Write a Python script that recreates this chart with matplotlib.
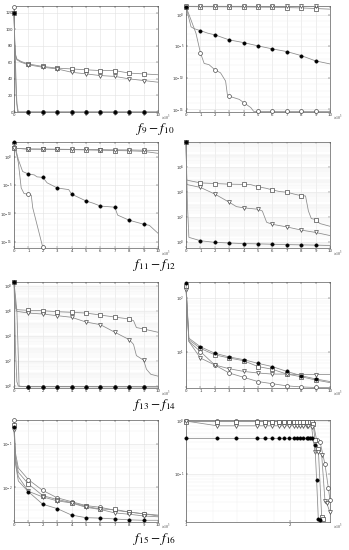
import numpy as np
import matplotlib
matplotlib.use('Agg')
import matplotlib.pyplot as plt
import matplotlib.ticker as mtick

plt.rcParams['mathtext.fontset'] = 'stix'
plt.rcParams['font.family'] = 'DejaVu Sans'

# ── Config ────────────────────────────────────────────────────────────────────
OUTPUT   = 'out.png'
DPI      = 100
W_PX, H_PX = 349, 550
LINE     = '#8a8a8a'
EDGE     = '#4a4a4a'
GRID     = '#e2e2e2'
GRID_MIN = '#f0f0f0'
TICK_FS  = 2.8

# ── Data (x in 10^3 evaluations, log panels stored as log10 values) ──────────
# f9  (linear y)
F9_X_A = [0, 0.05, 0.15, 0.25, 1, 2, 3, 4, 5, 6, 7, 8, 9, 10]
F9_Y_A = [127, 80, 20, 0, 0, 0, 0, 0, 0, 0, 0, 0, 0, 0]
F9_X_B = [0, 0.05, 0.1, 0.2, 0.5, 1, 2, 3, 4, 5, 6, 7, 8, 9, 10]
F9_Y_B = [120, 85, 70, 64, 61, 58, 55, 53, 52, 51, 50, 50, 47, 46, 45]
F9_X_C = [0, 0.05, 0.1, 0.2, 0.5, 1, 2, 3, 4, 5, 6, 7, 8, 9, 10]
F9_Y_C = [120, 80, 68, 63, 60, 57, 54, 52, 48, 46, 44, 43, 40, 38, 36]
F9_X_D = [0, 0.1, 0.2, 0.3, 1, 2, 3, 4, 5, 6, 7, 8, 9, 10]
F9_Y_D = [120, 60, 10, 0, 0, 0, 0, 0, 0, 0, 0, 0, 0, 0]

# f10
F10_X_A = [0, 0.69, 1, 1.26, 1.6, 2, 2.4, 2.75, 2.87, 3, 3.7, 4, 4.5, 4.7, 5, 6, 7, 8, 9, 10]
F10_A   = [1.3, -2.9, -6.0, -7.7, -7.9, -8.7, -9.2, -10.5, -12.6, -12.9, -13.4, -13.9, -14.7,
           -15.3, -15.3, -15.3, -15.3, -15.3, -15.3, -15.3]
F10_X_B = [0, 1, 2, 3, 4, 5, 6, 7, 8, 9, 10]
F10_B   = [1.3, 1.28, 1.27, 1.26, 1.25, 1.22, 1.2, 1.15, 1.1, 1.0, 0.9]
F10_X_C = [0, 1, 2, 3, 4, 5, 6, 7, 8, 9, 10]
F10_C   = [1.35, 1.35, 1.35, 1.35, 1.35, 1.34, 1.34, 1.34, 1.33, 1.33, 1.32]
F10_X_D = [0, 0.35, 0.57, 1, 1.5, 2, 3, 4, 5, 6, 7, 8, 9, 10]
F10_D   = [1.3, -1.9, -2.2, -2.5, -2.9, -3.17, -3.97, -4.4, -4.92, -5.4, -5.82, -6.46, -7.3, -7.78]

# f11
F11_X_A = [0, 0.3, 0.5, 0.7, 1, 1.2, 1.3, 1.6, 1.8, 2]
F11_A   = [2.5, -1.0, -5.5, -6.5, -6.6, -6.8, -9.0, -12.0, -14.0, -16.0]
F11_X_B = [0, 1, 2, 3, 4, 5, 6, 7, 8, 9, 10]
F11_B   = [1.5, 1.35, 1.33, 1.3, 1.25, 1.2, 1.15, 1.1, 1.05, 0.95, 0.6]
F11_X_C = [0, 1, 2, 3, 4, 5, 6, 7, 8, 9, 10]
F11_C   = [1.5, 1.36, 1.35, 1.33, 1.3, 1.28, 1.25, 1.22, 1.2, 1.15, 1.1]
F11_X_D = [0, 0.3, 0.6, 1, 1.4, 1.6, 2, 2.3, 3, 3.8, 4, 5, 5.5, 6, 7, 7.2, 8, 9, 9.4, 10]
F11_D   = [2.6, -0.5, -2.6, -3.05, -3.2, -3.55, -3.64, -4.6, -5.5, -5.8, -6.6, -7.8, -8.2, -8.7,
           -8.9, -10.3, -11.2, -11.9, -12.1, -13.5]

# f12
F12_X_B = [0, 0.05, 0.1, 1, 2, 3, 4, 4.5, 5, 5.6, 6, 6.5, 7, 7.5, 8, 8.3, 8.5, 8.7, 9, 9.3, 10]
F12_B   = [8.0, 5.0, 4.95, 4.74, 4.69, 4.64, 4.62, 4.6, 4.44, 4.3, 4.18, 4.05, 4.0, 3.85, 3.72,
           3.7, 2.5, 1.9, 1.82, 1.5, 1.28]
F12_X_C = [0, 0.05, 0.1, 1, 2, 3, 3.5, 4, 5, 5.3, 5.6, 6, 7, 8, 9, 10]
F12_C   = [8.0, 4.7, 4.6, 4.38, 3.85, 3.2, 2.85, 2.75, 2.64, 2.5, 1.6, 1.44, 1.23, 0.98, 0.79, 0.54]
F12_X_D = [0, 0.1, 0.2, 1, 2, 3, 4, 5, 6, 7, 8, 9, 10]
F12_D   = [8.0, 3.0, 0.4, 0.13, 0.0, -0.05, -0.1, -0.12, -0.15, -0.18, -0.2, -0.22, -0.25]

# f13
F13_X_A = [0, 0.2, 0.3, 0.35, 0.4, 1, 2, 3, 4, 5, 6, 7, 8, 9, 10]
F13_A   = [8.3, 6.0, 2.3, 0.0, -0.08, -0.08, -0.08, -0.08, -0.08, -0.08, -0.08, -0.08, -0.08,
           -0.08, -0.08]
F13_X_B = [0, 0.1, 0.2, 1, 2, 3, 4, 5, 6, 7, 8, 8.3, 8.5, 9, 10]
F13_B   = [8.3, 6.5, 6.08, 6.03, 6.0, 5.92, 5.87, 5.81, 5.65, 5.49, 5.33, 5.2, 4.65, 4.53, 4.27]
F13_X_C = [0, 0.1, 0.2, 1, 2, 3, 4, 5, 6, 7, 8, 8.3, 8.5, 9, 9.2, 9.5, 10]
F13_C   = [8.3, 6.2, 5.95, 5.81, 5.73, 5.6, 5.47, 5.09, 4.88, 4.27, 3.68, 3.3, 2.4, 2.03, 1.3,
           0.9, 0.75]
F13_X_D = [0, 0.1, 0.2, 0.3, 1, 2, 3, 4, 5, 6, 7, 8, 9, 10]
F13_D   = [8.3, 3.0, 0.3, -0.05, -0.1, -0.1, -0.1, -0.1, -0.1, -0.11, -0.11, -0.11, -0.12, -0.12]

# f14
F14_X = [0, 0.2, 1, 2, 3, 4, 5, 6, 7, 8, 9, 10]
F14_A = [2.2, 1.19, 1.0, 0.75, 0.6, 0.52, 0.44, 0.4, 0.36, 0.34, 0.33, 0.33]
F14_B = [2.23, 1.22, 1.06, 0.94, 0.88, 0.83, 0.72, 0.67, 0.58, 0.53, 0.47, 0.42]
F14_C = [2.15, 1.19, 0.88, 0.75, 0.68, 0.63, 0.6, 0.58, 0.58, 0.57, 0.57, 0.57]
F14_D = [2.28, 1.25, 1.09, 0.97, 0.9, 0.85, 0.78, 0.72, 0.63, 0.55, 0.49, 0.44]

# f15
F15_X = [0, 0.1, 0.3, 1, 2, 3, 4, 5, 6, 7, 8, 9, 10]
F15_A = [-0.44, -1.2, -1.55, -1.82, -2.07, -2.24, -2.33, -2.42, -2.46, -2.53, -2.57, -2.61, -2.64]
F15_B = [-0.55, -1.3, -1.65, -1.92, -2.19, -2.28, -2.35, -2.44, -2.5, -2.51, -2.57, -2.61, -2.66]
F15_C = [-0.66, -1.4, -1.75, -2.09, -2.22, -2.31, -2.36, -2.46, -2.51, -2.59, -2.62, -2.66, -2.68]
F15_D = [-0.6, -1.45, -1.85, -2.1, -2.39, -2.49, -2.64, -2.7, -2.71, -2.73, -2.75, -2.76, -2.76]

# f16 (log x, 10^3 evaluations)
F16_X_A = [1.0, 1.232, 1.391, 1.605, 1.695, 1.771, 1.851, 1.913, 1.978, 2.045, 2.09, 2.136, 2.183,
           2.231, 2.281, 2.332, 2.384, 2.438, 2.521, 2.578, 2.606]
F16_A   = [0, 0, 0, 0, -0.01, -0.01, -0.01, -0.01, -0.01, -0.01, -0.01, -0.01, -0.01, -0.01, -0.01,
           -0.03, -0.36, -0.39, -0.82, -1.27, -1.5]
F16_X_B = [1.0, 1.232, 1.391, 1.605, 1.695, 1.771, 1.851, 1.913, 1.978, 2.045, 2.09, 2.136, 2.183,
           2.231, 2.281, 2.306, 2.332, 2.358, 2.411, 2.466, 2.493]
F16_B   = [-0.01, -0.01, -0.01, -0.01, -0.01, -0.01, -0.01, -0.01, -0.01, -0.01, -0.01, -0.01,
           -0.01, -0.01, -0.01, -0.01, -0.06, -0.36, -0.52, -1.82, -1.85]
F16_X_C = [1.0, 1.232, 1.391, 1.605, 1.695, 1.771, 1.851, 1.913, 1.978, 2.045, 2.09, 2.136, 2.183,
           2.231, 2.256, 2.306, 2.358, 2.411, 2.466, 2.521, 2.55, 2.606]
F16_C   = [0, -0.09, -0.09, -0.09, -0.09, -0.09, -0.09, -0.09, -0.09, -0.09, -0.09, -0.09, -0.09,
           -0.09, -0.09, -0.12, -0.58, -0.58, -0.64, -1.52, -1.55, -1.73]
F16_X_D = [1.0, 1.232, 1.391, 1.605, 1.695, 1.771, 1.851, 1.913, 1.978, 2.045, 2.09, 2.136, 2.183,
           2.231, 2.256, 2.281, 2.306, 2.358, 2.384, 2.411, 2.438]
F16_D   = [-0.33, -0.33, -0.33, -0.33, -0.33, -0.33, -0.33, -0.33, -0.33, -0.33, -0.33, -0.33,
           -0.33, -0.33, -0.33, -0.33, -0.33, -0.45, -1.12, -1.85, -1.88]

CAPTIONS = [r'$f_{9} - f_{10}$', r'$f_{11} - f_{12}$', r'$f_{13} - f_{14}$', r'$f_{15} - f_{16}$']

# ── Styles ────────────────────────────────────────────────────────────────────
STY = {
    'A': dict(marker='o', mfc='white', mec=EDGE, ms=2.8, mew=0.5),
    'B': dict(marker='s', mfc='white', mec=EDGE, ms=2.5, mew=0.5),
    'C': dict(marker='v', mfc='white', mec=EDGE, ms=2.8, mew=0.5),
    'D': dict(marker='o', mfc='black', mec='black', ms=2.4, mew=0.4),
}


def at_ints(xs):
    return [i for i, v in enumerate(xs) if float(v).is_integer() and v < 10]


def draw(ax, xs, ys, key, log=True, every=None):
    y = 10.0 ** np.array(ys) if log else np.array(ys)
    me = at_ints(xs) if every is None else every
    ax.plot(xs, y, color=LINE, lw=0.55, markevery=me, clip_on=False, zorder=3, **STY[key])


def style(ax, logy=True):
    ax.set_facecolor('white')
    for s in ax.spines.values():
        s.set_linewidth(0.4)
        s.set_color('#333333')
    ax.tick_params(which='both', direction='in', length=1.5, width=0.3, labelsize=TICK_FS,
                   pad=0.8, colors='#333333', top=True, right=True)
    ax.tick_params(which='minor', length=0)
    ax.grid(True, which='major', color=GRID, lw=0.4)
    if logy:
        ax.grid(True, which='minor', axis='y', color=GRID_MIN, lw=0.35)
    ax.set_axisbelow(True)


def exp_label(ax):
    ax.text(1.02, -0.05, r'$\times10^{3}$', transform=ax.transAxes, fontsize=TICK_FS,
            ha='left', va='center', color='#333333')


def lin_x(ax):
    ax.set_xlim(0, 10)
    ax.set_xticks(range(11))
    exp_label(ax)


def log_y(ax, lo, hi, majors, subs):
    ax.set_yscale('log')
    ax.set_ylim(10.0 ** lo, 10.0 ** hi)
    ax.yaxis.set_major_locator(mtick.FixedLocator([10.0 ** m for m in majors]))
    ax.yaxis.set_major_formatter(mtick.LogFormatterMathtext())
    ax.yaxis.set_minor_locator(mtick.LogLocator(base=10, subs=subs, numticks=60))
    ax.yaxis.set_minor_formatter(mtick.NullFormatter())


# ── Layout ────────────────────────────────────────────────────────────────────
fig = plt.figure(figsize=(W_PX / DPI, H_PX / DPI), dpi=DPI)
fig.patch.set_facecolor('white')

ROWS = [(6, 112), (142, 248), (282, 388), (420, 522)]
COLS = [14, 186]
AW = 144
axes = []
for top, bot in ROWS:
    row = []
    for left in COLS:
        row.append(fig.add_axes([left / W_PX, 1 - bot / H_PX, AW / W_PX, (bot - top) / H_PX]))
    axes.append(row)

ALL_SUBS = np.arange(1, 10)

# f9
ax = axes[0][0]
style(ax, logy=False)
for xs, ys, k in [(F9_X_A, F9_Y_A, 'A'), (F9_X_B, F9_Y_B, 'B'), (F9_X_C, F9_Y_C, 'C'),
                  (F9_X_D, F9_Y_D, 'D')]:
    draw(ax, xs, ys, k, log=False)
lin_x(ax)
ax.set_ylim(0, 128)
ax.set_yticks(range(0, 121, 20))

# f10
ax = axes[0][1]
style(ax)
log_y(ax, -15.4, 1.4, [-15, -10, -5, 0], [1.0])
for xs, ys, k in [(F10_X_A, F10_A, 'A'), (F10_X_B, F10_B, 'B'), (F10_X_C, F10_C, 'C'),
                  (F10_X_D, F10_D, 'D')]:
    draw(ax, xs, ys, k)
lin_x(ax)

# f11
ax = axes[1][0]
style(ax)
log_y(ax, -16.1, 2.6, [-15, -10, -5, 0], [1.0])
for xs, ys, k in [(F11_X_A, F11_A, 'A'), (F11_X_B, F11_B, 'B'), (F11_X_C, F11_C, 'C'),
                  (F11_X_D, F11_D, 'D')]:
    draw(ax, xs, ys, k)
lin_x(ax)

# f12
ax = axes[1][1]
style(ax)
log_y(ax, -0.45, 8.0, [0, 2, 4, 6], ALL_SUBS)
for xs, ys, k in [(F12_X_B, F12_B, 'B'), (F12_X_C, F12_C, 'C'), (F12_X_D, F12_D, 'D')]:
    draw(ax, xs, ys, k)
lin_x(ax)

# f13
ax = axes[2][0]
style(ax)
log_y(ax, -0.2, 8.3, [0, 2, 4, 6, 8], ALL_SUBS)
for xs, ys, k in [(F13_X_A, F13_A, 'A'), (F13_X_B, F13_B, 'B'), (F13_X_C, F13_C, 'C'),
                  (F13_X_D, F13_D, 'D')]:
    draw(ax, xs, ys, k)
lin_x(ax)

# f14
ax = axes[2][1]
style(ax)
log_y(ax, 0.32, 2.3, [1, 2], ALL_SUBS)
for ys, k in [(F14_A, 'A'), (F14_B, 'B'), (F14_C, 'C'), (F14_D, 'D')]:
    draw(ax, F14_X, ys, k)
lin_x(ax)

# f15
ax = axes[3][0]
style(ax)
log_y(ax, -2.8, -0.44, [-2, -1], ALL_SUBS)
for ys, k in [(F15_A, 'A'), (F15_B, 'B'), (F15_C, 'C'), (F15_D, 'D')]:
    draw(ax, F15_X, ys, k)
lin_x(ax)

# f16 (log-log)
ax = axes[3][1]
style(ax)
log_y(ax, -1.91, 0.02, [-1, 0], ALL_SUBS)
ax.set_xscale('log')
ax.set_xlim(1.0, 2.606)
ax.xaxis.set_major_locator(mtick.FixedLocator([1, 2]))
ax.xaxis.set_major_formatter(mtick.FormatStrFormatter('%d'))
ax.xaxis.set_minor_locator(mtick.MultipleLocator(0.2))
ax.xaxis.set_minor_formatter(mtick.NullFormatter())
ax.grid(True, which='minor', axis='x', color=GRID_MIN, lw=0.35)
for xs, ys, k in [(F16_X_A, F16_A, 'A'), (F16_X_B, F16_B, 'B'), (F16_X_C, F16_C, 'C'),
                  (F16_X_D, F16_D, 'D')]:
    draw(ax, xs, ys, k, every=list(range(len(xs))))
exp_label(ax)

# captions
for (top, bot), cap in zip(ROWS, CAPTIONS):
    fig.text(155 / W_PX, 1 - (bot + 17) / H_PX, cap, ha='center', va='center', fontsize=9.5)

fig.savefig(OUTPUT, dpi=DPI, facecolor='white')
plt.close(fig)
